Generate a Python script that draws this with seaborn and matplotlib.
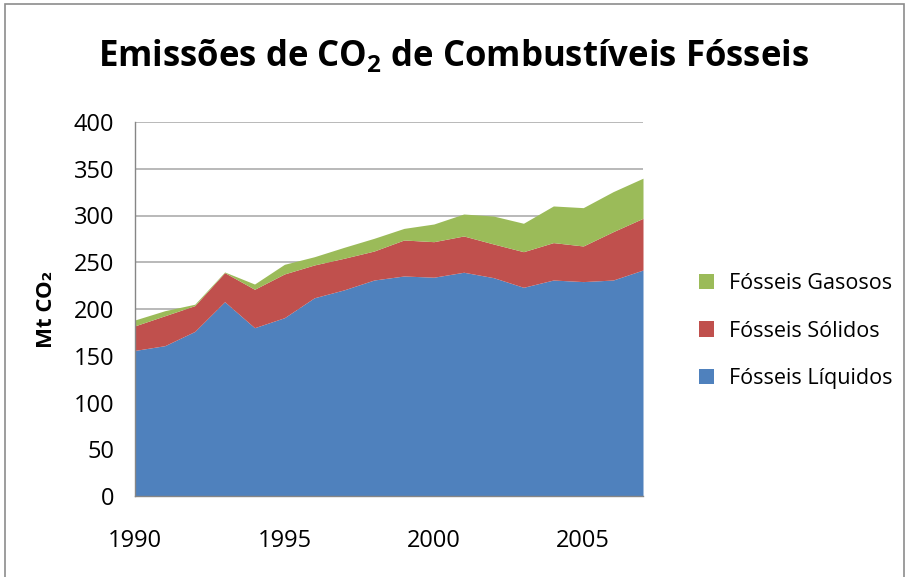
"""
Emissões de CO2 de combustíveis fósseis - gráfico de áreas empilhadas
"""
import matplotlib
matplotlib.use("Agg")
import matplotlib.pyplot as plt
from matplotlib.patches import Rectangle
import seaborn as sns
import numpy as np
import pandas as pd

# dados (Mt CO2)
anos = list(range(1990, 2008))
liquidos = [155.7, 160.8, 176.0, 207.8, 180.0, 190.7, 212.0, 220.5, 231.0,
            235.3, 234.0, 239.3, 233.5, 223.2, 231.0, 229.3, 231.0, 241.7]
solidos = [26.3, 32.0, 27.6, 31.1, 41.1, 46.8, 35.1, 33.8, 31.0,
           38.5, 38.0, 38.8, 36.0, 38.1, 40.0, 38.1, 51.7, 55.3]
gasosos = [6.3, 5.4, 1.5, 0.7, 5.6, 10.3, 8.8, 11.7, 13.6,
           12.4, 18.9, 23.5, 29.9, 30.4, 39.2, 41.0, 42.8, 42.9]
series = ['Fósseis Líquidos', 'Fósseis Sólidos', 'Fósseis Gasosos']
cores = ['#4F81BD', '#C0504D', '#9BBB59']
x_ticks = [1990, 1995, 2000, 2005]
y_ticks = list(range(0, 401, 50))

df = pd.DataFrame({'ano': anos, series[0]: liquidos,
                   series[1]: solidos, series[2]: gasosos})

sns.set_theme(style="white")
plt.rcParams['font.family'] = ['Open Sans', 'DejaVu Sans']
plt.rcParams['mathtext.default'] = 'regular'
plt.rcParams['text.color'] = 'black'
plt.rcParams['axes.labelcolor'] = 'black'

fig = plt.figure(figsize=(9.08, 5.77), dpi=100)
ax = fig.add_axes([135 / 908, 1 - 496 / 577, (643 - 135) / 908, (496 - 122) / 577])

ax.stackplot(df['ano'], df[series[0]], df[series[1]], df[series[2]],
             colors=cores, labels=series, linewidth=0)

ax.set_xlim(1990, 2007)
ax.set_ylim(0, 400)
ax.set_xticks(x_ticks)
ax.set_yticks(y_ticks)
ax.yaxis.grid(True, color='#B3B3B3', linewidth=1.3)
ax.set_axisbelow(True)
for s in ['top', 'right']:
    ax.spines[s].set_visible(False)
for s in ['left', 'bottom']:
    ax.spines[s].set_color('#868686')
    ax.spines[s].set_linewidth(1.0)
ax.tick_params(axis='x', direction='out', length=7, width=1, color='#868686',
               labelsize=17, pad=17, labelcolor='black')
ax.tick_params(axis='y', length=0, labelsize=17, pad=15, labelcolor='black')
ax.set_ylabel('Mt CO₂', fontsize=16, fontweight='bold', labelpad=12)

# legenda (ordem invertida)
h, l = ax.get_legend_handles_labels()
fig.legend(h[::-1], l[::-1], loc='center left', bbox_to_anchor=(0.748, 1 - 331 / 577),
           frameon=False, fontsize=15.5, handlelength=0.7, handleheight=0.7,
           handletextpad=0.7, labelspacing=1.25)

fig.text(0.5, 1 - 57 / 577, 'Emissões de CO$_2$ de Combustíveis Fósseis',
         ha='center', va='center', fontsize=25, fontweight='bold')

# borda do gráfico
fig.patches.append(Rectangle((5 / 908, -0.01), 1 - 9 / 908, 1 - 4 / 577 + 0.01,
                             transform=fig.transFigure, fill=False,
                             edgecolor='#8C8C8C', linewidth=1.2))

fig.savefig('out.png', dpi=100)
